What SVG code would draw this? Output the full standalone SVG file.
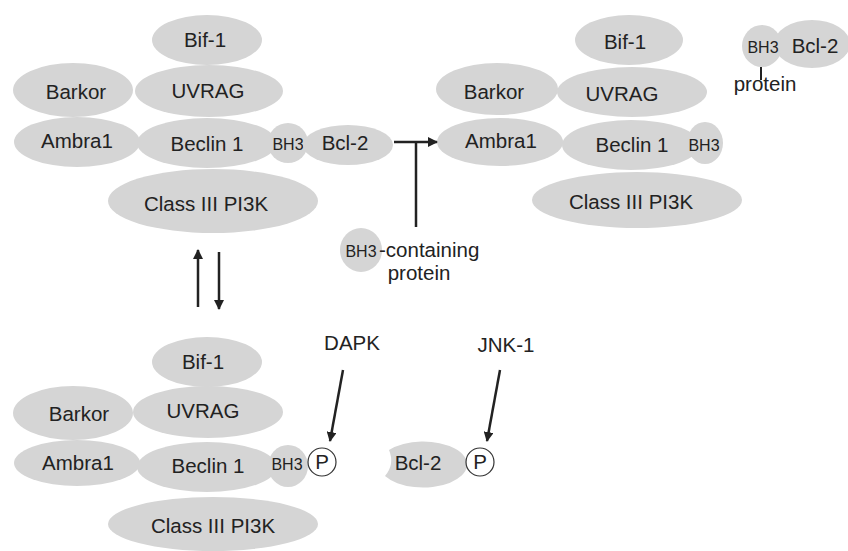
<svg xmlns="http://www.w3.org/2000/svg" width="848" height="551" viewBox="0 0 848 551">
<defs>
<style>
.n{fill:#d5d5d5;stroke:none}
.t{font-family:"Liberation Sans",Arial,sans-serif;font-size:20.5px;fill:#222;text-anchor:middle}
.s{font-family:"Liberation Sans",Arial,sans-serif;font-size:16px;fill:#222;text-anchor:middle}
.p{fill:#fff;stroke:#333;stroke-width:1.2}
.c{stroke:#222;stroke-width:2.5;fill:none}
</style>
<marker id="ah" viewBox="0 0 10 10" refX="9" refY="5" markerWidth="4" markerHeight="4" orient="auto" markerUnits="strokeWidth">
<path d="M0,0 L10,5 L0,10 z" fill="#222"/>
</marker>
</defs>
<rect width="848" height="551" fill="#fff"/>

<!-- Top-left complex -->
<g id="tl-bif1"><ellipse class="n" cx="207" cy="40" rx="55" ry="25"/><text class="t" x="205" y="47">Bif-1</text></g>
<g id="tl-barkor"><ellipse class="n" cx="73" cy="90" rx="60" ry="27"/><text class="t" x="76" y="99">Barkor</text></g>
<g id="tl-uvrag"><ellipse class="n" cx="209" cy="91" rx="74" ry="26"/><text class="t" x="208" y="98">UVRAG</text></g>
<g id="tl-ambra1"><ellipse class="n" cx="77" cy="142" rx="63" ry="25"/><text class="t" x="77" y="148">Ambra1</text></g>
<g id="tl-pi3k"><ellipse class="n" cx="213" cy="201" rx="105" ry="32"/><text class="t" x="206" y="211">Class III PI3K</text></g>
<g id="tl-beclin1"><ellipse class="n" cx="207" cy="143" rx="70" ry="25"/><text class="t" x="207" y="151">Beclin 1</text></g>
<g id="tl-bh3"><ellipse class="n" cx="288" cy="143" rx="20" ry="20"/><text class="s" x="288" y="150">BH3</text></g>
<g id="tl-bcl2"><ellipse class="n" cx="348" cy="145" rx="45" ry="20"/><text class="t" x="345" y="150">Bcl-2</text></g>

<!-- Top-right complex -->
<g id="tr-bif1"><ellipse class="n" cx="629" cy="40" rx="54" ry="25"/><text class="t" x="625" y="49">Bif-1</text></g>
<g id="tr-barkor"><ellipse class="n" cx="497" cy="89" rx="61" ry="26"/><text class="t" x="494" y="99">Barkor</text></g>
<g id="tr-uvrag"><ellipse class="n" cx="632" cy="92" rx="75" ry="25"/><text class="t" x="622" y="101">UVRAG</text></g>
<g id="tr-ambra1"><ellipse class="n" cx="500" cy="142" rx="63" ry="24"/><text class="t" x="501" y="148">Ambra1</text></g>
<g id="tr-pi3k"><ellipse class="n" cx="637" cy="200" rx="105" ry="28"/><text class="t" x="631" y="209">Class III PI3K</text></g>
<g id="tr-beclin1"><ellipse class="n" cx="631" cy="145" rx="69" ry="25"/><text class="t" x="632" y="152">Beclin 1</text></g>
<g id="tr-bh3"><ellipse class="n" cx="705" cy="143" rx="18" ry="21"/><text class="s" x="704" y="151">BH3</text></g>

<!-- Free BH3 protein : Bcl-2 -->
<g id="tr-bh3bcl2">
<ellipse class="n" cx="812" cy="44" rx="38" ry="24"/>
<ellipse class="n" cx="762" cy="46" rx="20" ry="21"/>
<text class="s" x="763" y="53">BH3</text>
<text class="t" x="815" y="53">Bcl-2</text>
<line x1="761" y1="67" x2="761" y2="80" stroke="#222" stroke-width="2"/>
<text class="t" x="765" y="91">protein</text>
</g>

<!-- BH3-containing protein -->
<g id="bh3-protein">
<ellipse class="n" cx="361" cy="250" rx="21" ry="22"/>
<text class="s" x="361" y="257">BH3</text>
<text class="t" x="379" y="257" style="text-anchor:start">-containing</text>
<text class="t" x="419" y="280">protein</text>
</g>

<!-- Bottom-left complex -->
<g id="bl-bif1"><ellipse class="n" cx="207" cy="362" rx="55" ry="25"/><text class="t" x="203" y="369">Bif-1</text></g>
<g id="bl-barkor"><ellipse class="n" cx="73" cy="413" rx="60" ry="27"/><text class="t" x="79" y="421">Barkor</text></g>
<g id="bl-uvrag"><ellipse class="n" cx="208" cy="412" rx="75" ry="26"/><text class="t" x="203" y="418">UVRAG</text></g>
<g id="bl-ambra1"><ellipse class="n" cx="77" cy="463" rx="63" ry="23"/><text class="t" x="78" y="470">Ambra1</text></g>
<g id="bl-pi3k"><ellipse class="n" cx="213" cy="524" rx="105" ry="27"/><text class="t" x="213" y="533">Class III PI3K</text></g>
<g id="bl-beclin1"><ellipse class="n" cx="207" cy="467" rx="70" ry="25"/><text class="t" x="208" y="473">Beclin 1</text></g>
<g id="bl-bh3"><ellipse class="n" cx="288" cy="466" rx="20" ry="21"/><text class="s" x="287" y="470">BH3</text></g>
<g id="bl-p"><circle class="p" cx="322" cy="462" r="14"/><text class="t" x="322" y="469">P</text></g>
<g id="dapk"><text class="t" x="352" y="350">DAPK</text></g>

<!-- Bottom Bcl-2 -->
<g id="b-bcl2"><path class="n" d="M389,450 A44,23 0 1,1 385,476 Q395,464 389,450 Z"/><text class="t" x="418" y="470">Bcl-2</text></g>
<g id="b-p"><circle class="p" cx="480" cy="462" r="14"/><text class="t" x="480" y="469">P</text></g>
<g id="jnk1"><text class="t" x="506" y="352">JNK-1</text></g>

<!-- Connectors -->
<g id="connectors">
<line class="c" x1="394" y1="142" x2="437" y2="142" marker-end="url(#ah)"/>
<line class="c" x1="416" y1="142" x2="416" y2="227"/>
<line class="c" x1="198" y1="307" x2="198" y2="250" marker-end="url(#ah)"/>
<line class="c" x1="219" y1="252" x2="219" y2="309" marker-end="url(#ah)"/>
<line class="c" x1="343" y1="370" x2="330" y2="441" marker-end="url(#ah)"/>
<line class="c" x1="500" y1="370" x2="487" y2="441" marker-end="url(#ah)"/>
</g>
</svg>
